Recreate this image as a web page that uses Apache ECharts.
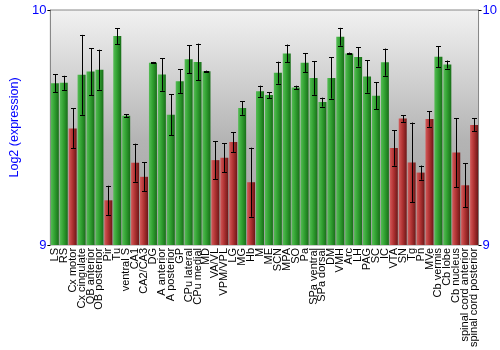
<!DOCTYPE html>
<html>
<head>
<meta charset="utf-8">
<script src="https://cdn.jsdelivr.net/npm/echarts@6/dist/echarts.min.js"></script>
<style>html,body{margin:0;padding:0;background:#fff}#c{width:500px;height:350px}</style>
</head>
<body>
<div id="c"></div>
<script>
var categories = ["LS","RS","Cx motor","Cx cingulate","OB anterior","OB posterior","Pir","Tu","ventral S","CA1","CA2/CA3","DG","A anterior","A posterior","GP","CPu lateral","CPu medial","MD","VA/VL","VPM/VPL","LG","MG","Hb","M","ME","SCN","MPA","SO","Pa","SPa ventral","SPa dorsal","DM","VMH","Arc","LH","PAG","SC","IC","VTA","SN","Tg","Pn","MVe","Cb vermis","Cb lobe","Cb nucleus","spinal cord anterior","spinal cord posterior"];
var values = [9.688,9.69,9.496,9.724,9.738,9.746,9.19,9.889,9.55,9.35,9.29,9.776,9.725,9.554,9.697,9.79,9.779,9.739,9.361,9.371,9.438,9.583,9.267,9.654,9.638,9.733,9.815,9.67,9.776,9.711,9.608,9.711,9.886,9.815,9.8,9.717,9.635,9.778,9.413,9.538,9.351,9.308,9.536,9.801,9.768,9.393,9.254,9.511];
var errors = [0.038,0.03,0.085,0.17,0.1,0.085,0.062,0.034,0.006,0.081,0.061,0.003,0.069,0.088,0.05,0.06,0.078,0.003,0.08,0.061,0.042,0.029,0.147,0.024,0.013,0.047,0.038,0.008,0.041,0.072,0.019,0.088,0.038,0.004,0.041,0.069,0.058,0.058,0.076,0.014,0.17,0.03,0.033,0.044,0.017,0.147,0.094,0.028];
var lowGroup = [0,0,1,0,0,0,1,0,0,1,1,0,0,0,0,0,0,0,1,1,1,0,1,0,0,0,0,0,0,0,0,0,0,0,0,0,0,0,1,1,1,1,1,0,0,1,1,1];
var yTicks = [9, 10];

var greenFill = new echarts.graphic.LinearGradient(0,0,1,0,[
  {offset:0,color:'#55bc55'},{offset:0.45,color:'#32a232'},{offset:1,color:'#186e18'}]);
var redFill = new echarts.graphic.LinearGradient(0,0,1,0,[
  {offset:0,color:'#d35a5a'},{offset:0.45,color:'#b23434'},{offset:1,color:'#6e1717'}]);

var barData = values.map(function(v,i){
  return {value:v, itemStyle:{color: lowGroup[i] ? redFill : greenFill}};
});
var errData = values.map(function(v,i){ return [i, v - errors[i], v + errors[i]]; });

var chart = echarts.init(document.getElementById('c'), null, {renderer:'canvas'});
var font = 'Liberation Sans, Arial, sans-serif';
chart.setOption({
  animation:false,
  textStyle:{fontFamily:font},
  grid:{left:34, right:21, top:10, bottom:100, show:true, borderColor:'#888', borderWidth:1,
    backgroundColor: new echarts.graphic.LinearGradient(0,0,0,1,[
      {offset:0,color:'#f2f2f2'},{offset:0.55,color:'#b4b4b4'},{offset:1,color:'#a2a2a2'}])},
  xAxis:{type:'category', data:categories,
    axisLine:{show:false}, axisTick:{show:false},
    axisLabel:{rotate:90, interval:0, fontSize:11, color:'#000', margin:3, fontFamily:font}},
  yAxis:[
    {type:'value', min:yTicks[0], max:yTicks[1], interval:1, position:'left',
     name:'Log2 (expression)', nameLocation:'middle', nameGap:26,
     nameTextStyle:{color:'#0000ff', fontSize:12.5, fontFamily:font},
     axisLine:{show:true, lineStyle:{color:'#888'}},
     axisTick:{show:true, length:3, lineStyle:{color:'#000'}},
     axisLabel:{color:'#0000ff', fontSize:13, margin:4, fontFamily:font},
     splitLine:{show:false}},
    {type:'value', min:yTicks[0], max:yTicks[1], interval:1, position:'right',
     axisLine:{show:true, lineStyle:{color:'#888'}},
     axisTick:{show:true, length:3, lineStyle:{color:'#000'}},
     axisLabel:{color:'#0000ff', fontSize:13, margin:4, fontFamily:font},
     splitLine:{show:false}}
  ],
  series:[
    {type:'bar', data:barData, barWidth:8, clip:true},
    {type:'custom', data:errData, z:10,
     renderItem:function(params, api){
       var x = api.value(0);
       var lo = api.coord([x, api.value(1)]);
       var hi = api.coord([x, api.value(2)]);
       var cx = Math.round(lo[0]) + 0.5;
       var w = 2.5;
       var st = {stroke:'#000', lineWidth:1};
       return {type:'group', children:[
         {type:'line', shape:{x1:cx, y1:lo[1], x2:cx, y2:hi[1]}, style:st},
         {type:'line', shape:{x1:cx-w, y1:Math.round(lo[1])+0.5, x2:cx+w, y2:Math.round(lo[1])+0.5}, style:st},
         {type:'line', shape:{x1:cx-w, y1:Math.round(hi[1])+0.5, x2:cx+w, y2:Math.round(hi[1])+0.5}, style:st}
       ]};
     }}
  ]
});
</script>
</body>
</html>
